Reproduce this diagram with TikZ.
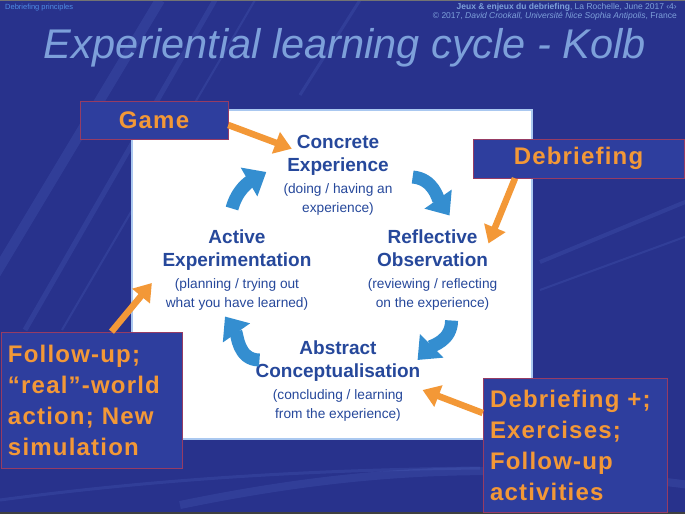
\documentclass[tikz,border=0pt]{standalone}
\usepackage{fontspec}
\setmainfont{Liberation Sans}
\newfontfamily\boxfont[LetterSpace=5]{Liberation Sans}
\usetikzlibrary{arrows.meta}
\usetikzlibrary{positioning}

\definecolor{slidebg}{RGB}{40,50,140}
\definecolor{streak}{RGB}{95,120,210}
\definecolor{boxblue}{RGB}{46,62,158}
\definecolor{boxedge}{RGB}{150,60,100}
\definecolor{tagorange}{RGB}{243,152,55}
\definecolor{stageblue}{RGB}{38,72,155}
\definecolor{turnblue}{RGB}{52,142,208}
\definecolor{titleblue}{RGB}{125,160,218}
\definecolor{headblue}{RGB}{80,140,228}
\definecolor{panelrim}{RGB}{170,200,240}

\newcommand{\stagehead}[1]{{\bfseries\fontsize{19}{19}\selectfont #1}}

\begin{document}
\begin{tikzpicture}[
x=1pt, y=1pt,
tag/.style ={rectangle, draw=boxedge, line width=0.6pt, fill=boxblue,
  text=tagorange, inner sep=0pt,
  font=\boxfont\bfseries\fontsize{24}{31}\selectfont},
stage/.style ={align=center, text=stageblue, inner sep=0pt,
  font=\fontsize{13.7}{19}\selectfont},
turn/.style ={turnblue, line width=13pt, -{Triangle[width=32pt,length=20pt]}},
feed/.style ={tagorange, line width=6.5pt, -{Triangle[width=22pt,length=17pt]}},
streakline/.style ={draw=streak, opacity=0.18}
]

% slide background
\fill[slidebg] (0,0) rectangle (685,-514);
\begin{scope}
\clip (0,0) rectangle (685,-514);
\draw[streakline, line width=10pt] (-20,-300) -- (160,0);
\draw[streakline, line width=5pt] (25,-330) -- (215,0);
\draw[streakline, line width=2pt] (62,-330) -- (255,0);
\draw[streakline, line width=3pt] (300,-95) -- (360,0);
\draw[streakline, line width=8pt] (180,-505) .. controls (350,-470) and (500,-460) .. (690,-485);
\draw[streakline, line width=3pt] (0,-500) .. controls (150,-480) and (300,-470) .. (480,-468);
\draw[streakline, line width=4pt] (540,-262) -- (690,-200);
\draw[streakline, line width=2pt] (540,-290) -- (690,-235);
\end{scope}
\fill[black!75] (0,-511.5) rectangle (685,-514);
\fill[black!55] (0,0) rectangle (685,-1.2);

% header and title
\node[font=\fontsize{7.5}{9}\selectfont, text=headblue, anchor=north west,
  inner sep=0pt] (topic) at (5,-4) {Debriefing principles};
\node[font=\fontsize{8.5}{9.5}\selectfont, text=titleblue, align=right,
  anchor=north east, inner sep=0pt] (credit) at (677,-3)
  {\textbf{Jeux \& enjeux du debriefing}, La Rochelle, June 2017 ‹4›\\
   © 2017, \textit{David Crookall, Université Nice Sophia Antipolis}, France};
\node[font=\itshape\fontsize{41.5}{45}\selectfont, text=titleblue,
  anchor=base, inner sep=0pt] (title) at (345,-58) {Experiential learning cycle - Kolb};

% white panel
\draw[panelrim, line width=1.5pt, fill=white] (132,-110) rectangle (532,-439);

% the four stages
\node[stage] (ae) at (237,-270) {\stagehead{Active}\\[4pt]\stagehead{Experimentation}\\[3pt]
  (planning / trying out\\what you have learned)};
\node[stage] (ro) [right=56pt of ae] {\stagehead{Reflective}\\[4pt]\stagehead{Observation}\\[3pt]
  (reviewing / reflecting\\on the experience)};
\node[stage] (ce) at (338,-175) {\stagehead{Concrete}\\[4pt]\stagehead{Experience}\\[3pt]
  (doing / having an\\experience)};
\node[stage] (ac) at (338,-381) {\stagehead{Abstract}\\[4pt]\stagehead{Conceptualisation}\\[3pt]
  (concluding / learning\\from the experience)};

\path[turn]
([shift={(-5pt,21pt)}]ae.north) edge[out=75, in=210] ([shift={(-17pt,3pt)}]ce.west)
([shift={(20pt,-2pt)}]ce.east) edge[out=-5, in=125] ([shift={(17pt,14pt)}]ro.north)
([shift={(19pt,-10pt)}]ro.south) edge[out=-90, in=45] ([shift={(-3pt,21pt)}]ac.east)
([shift={(4pt,21pt)}]ac.west) edge[out=180, in=-55] ([shift={(-12pt,-6pt)}]ae.south)
;

% orange labels
\node[tag, minimum width=148pt, minimum height=38pt] (game) at (154,-120) {Game};
\node[tag, minimum width=211pt, minimum height=39pt] (debrief) at (578.5,-158.5) {Debriefing};
\node[tag, minimum width=181pt, minimum height=136pt, text width=167pt, align=left]
  (followup) at (91.5,-400)
  {Follow-up;\\“real”-world\\action; New\\simulation};
\node[tag, minimum width=184pt, minimum height=134pt, text width=170pt, align=left]
  (debriefplus) at (575,-445)
  {Debriefing +;\\Exercises;\\Follow-up\\activities};

\path[feed]
([yshift=-5pt]game.east) edge ([shift={(8.5pt,-14pt)}]ce.north west)
([xshift=-63.5pt]debrief.south) edge ([shift={(-9pt,-14pt)}]ro.north east)
([xshift=20pt]followup.north) edge ([shift={(-10.5pt,-13pt)}]ae.west)
([yshift=32pt]debriefplus.west) edge ([shift={(2pt,-9pt)}]ac.east)
;
\end{tikzpicture}
\end{document}
